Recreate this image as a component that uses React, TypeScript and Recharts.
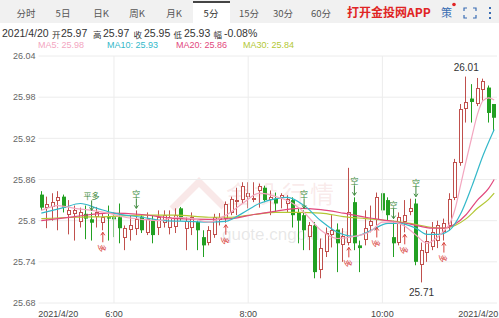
import React from 'react';
import {
  ComposedChart,
  Bar,
  Line,
  XAxis,
  YAxis,
  CartesianGrid,
  ReferenceLine,
  ReferenceDot,
} from 'recharts';

// 5-minute bars, 2021/4/20, first bar 04:55
const BAR_COUNT = 82;
const FIRST_BAR_MIN = 4 * 60 + 55;
const times = Array.from({ length: BAR_COUNT }, (_, i) => {
  const m = FIRST_BAR_MIN + i * 5;
  return `${String(Math.floor(m / 60)).padStart(2, '0')}:${String(m % 60).padStart(2, '0')}`;
});

const open = [
  25.838, 25.819, 25.819, 25.828, 25.835, 25.808, 25.81, 25.798, 25.81, 25.802,
  25.805, 25.796, 25.805, 25.805, 25.805, 25.776, 25.786, 25.789, 25.806, 25.783,
  25.8, 25.789, 25.796, 25.789, 25.79, 25.818, 25.789, 25.789, 25.798, 25.776,
  25.767, 25.779, 25.802, 25.803, 25.812, 25.828, 25.83, 25.834, 25.83, 25.843,
  25.848, 25.83, 25.832, 25.832, 25.825, 25.83, 25.812, 25.808, 25.776, 25.793,
  25.728, 25.754, 25.779, 25.787, 25.764, 25.767, 25.827, 25.764, 25.771, 25.793,
  25.8, 25.84, 25.83, 25.776, 25.767, 25.798, 25.812, 25.825, 25.735, 25.753,
  25.761, 25.769, 25.783, 25.793, 25.832, 25.885, 25.963, 25.978, 25.97, 25.99,
  25.994, 25.97,
];
const high = [
  25.843, 25.835, 25.84, 25.843, 25.838, 25.83, 25.822, 25.819, 25.822, 25.812,
  25.82, 25.81, 25.822, 25.812, 25.825, 25.793, 25.808, 25.815, 25.808, 25.812,
  25.808, 25.815, 25.815, 25.815, 25.818, 25.82, 25.805, 25.812, 25.8, 25.786,
  25.792, 25.81, 25.811, 25.828, 25.835, 25.848, 25.856, 25.856, 25.856, 25.854,
  25.851, 25.844, 25.841, 25.84, 25.837, 25.834, 25.819, 25.815, 25.798, 25.798,
  25.774, 25.79, 25.808, 25.796, 25.789, 25.877, 25.834, 25.771, 25.815, 25.822,
  25.841, 25.841, 25.834, 25.8, 25.812, 25.83, 25.832, 25.832, 25.768, 25.786,
  25.798, 25.8, 25.803, 25.84, 25.89, 25.97, 26.01, 25.999, 26.008, 26.007,
  25.997, 25.97,
];
const low = [
  25.815, 25.789, 25.8, 25.786, 25.812, 25.78, 25.771, 25.79, 25.773, 25.771,
  25.79, 25.786, 25.771, 25.776, 25.767, 25.757, 25.771, 25.779, 25.782, 25.779,
  25.767, 25.779, 25.79, 25.78, 25.782, 25.8, 25.757, 25.779, 25.757, 25.747,
  25.764, 25.775, 25.793, 25.797, 25.808, 25.808, 25.825, 25.818, 25.827, 25.819,
  25.827, 25.808, 25.812, 25.818, 25.812, 25.79, 25.767, 25.757, 25.757, 25.716,
  25.716, 25.747, 25.761, 25.725, 25.74, 25.764, 25.757, 25.725, 25.764, 25.783,
  25.793, 25.811, 25.8, 25.747, 25.764, 25.783, 25.808, 25.735, 25.71, 25.74,
  25.757, 25.76, 25.771, 25.786, 25.83, 25.88, 25.943, 25.943, 25.967, 25.975,
  25.943, 25.93,
];
const close = [
  25.819, 25.825, 25.827, 25.834, 25.819, 25.816, 25.816, 25.812, 25.803, 25.797,
  25.812, 25.805, 25.803, 25.802, 25.789, 25.79, 25.793, 25.803, 25.786, 25.803,
  25.779, 25.805, 25.808, 25.805, 25.808, 25.803, 25.8, 25.805, 25.786, 25.764,
  25.786, 25.805, 25.804, 25.825, 25.832, 25.83, 25.851, 25.84, 25.833, 25.85,
  25.83, 25.834, 25.825, 25.837, 25.832, 25.808, 25.8, 25.786, 25.793, 25.725,
  25.76, 25.782, 25.786, 25.767, 25.777, 25.812, 25.767, 25.76, 25.789, 25.8,
  25.834, 25.815, 25.808, 25.767, 25.805, 25.808, 25.818, 25.74, 25.757, 25.771,
  25.783, 25.793, 25.796, 25.832, 25.885, 25.963, 25.973, 25.973, 25.994, 26.003,
  25.957, 25.95,
];

// moving averages at [bar index, value]
const ma5Pts: [number, number][] = [
  [0, 25.815], [3, 25.822], [6, 25.818], [9, 25.815], [12, 25.811], [15, 25.805],
  [18, 25.802], [21, 25.8], [24, 25.805], [27, 25.803], [30, 25.798], [33, 25.808],
  [36, 25.825], [39, 25.84], [42, 25.835], [45, 25.825], [47, 25.812], [50, 25.786],
  [53, 25.774], [56, 25.777], [59, 25.785], [61, 25.798], [63, 25.798], [65, 25.792],
  [67, 25.779], [69, 25.767], [71, 25.777], [72, 25.785], [73, 25.795], [74, 25.817],
  [75, 25.852], [76, 25.888], [77, 25.922], [78, 25.955], [79, 25.975], [80, 25.979],
  [81, 25.976],
];
const ma10Pts: [number, number][] = [
  [0, 25.811], [4, 25.819], [7, 25.825], [10, 25.818], [13, 25.811], [18, 25.805],
  [22, 25.8], [26, 25.799], [30, 25.798], [33, 25.799], [36, 25.811], [39, 25.825],
  [42, 25.832], [44, 25.834], [47, 25.822], [50, 25.8], [53, 25.783], [56, 25.777],
  [59, 25.786], [62, 25.796], [64, 25.796], [67, 25.789], [69, 25.78], [71, 25.78],
  [73, 25.786], [75, 25.81], [77, 25.85], [79, 25.895], [81, 25.933],
];
const ma20Pts: [number, number][] = [
  [0, 25.8], [6, 25.806], [12, 25.811], [18, 25.809], [24, 25.803], [30, 25.802],
  [34, 25.803], [38, 25.809], [42, 25.814], [46, 25.818], [50, 25.816], [54, 25.811],
  [58, 25.805], [62, 25.8], [66, 25.795], [70, 25.789], [72, 25.789], [74, 25.795],
  [76, 25.809], [78, 25.83], [80, 25.847], [81, 25.86],
];
const ma30Pts: [number, number][] = [
  [0, 25.803], [6, 25.805], [12, 25.806], [18, 25.808], [24, 25.808], [30, 25.805],
  [34, 25.805], [38, 25.809], [42, 25.812], [46, 25.812], [50, 25.811], [54, 25.806],
  [58, 25.803], [62, 25.8], [66, 25.796], [70, 25.79], [72, 25.789], [74, 25.793],
  [76, 25.803], [78, 25.818], [80, 25.831], [81, 25.84],
];

// trade signals: bar index and label
const shortSignals: [number, string][] = [
  [9, '平多'], [17, '空'], [47, '空'], [56, '空'], [63, '空'], [67, '空'],
];
const longSignals = [11, 33, 55, 60, 65, 72];

const yTicks = [25.68, 25.74, 25.8, 25.86, 25.92, 25.98, 26.04];
const xTicks = ['04:55', '06:00', '08:00', '10:00', '11:40'];
const dateLabel = '2021/4/20';
const changePct = '-0.08%';

const tabs = ['分时', '5日', '日K', '周K', '月K', '5分', '15分', '30分', '60分'];
const tabCenters = [26, 63, 101, 137, 174, 211, 249, 283, 321];
const activeTab = '5分';

const UP = '#c0504d';
const DOWN = '#22a022';
const MA_COLORS = { ma5: '#f3a6bf', ma10: '#33b8c9', ma20: '#e2487d', ma30: '#b3c734' };
const GRID = '#ececec';
const NUM_FONT = '"Liberation Sans", Arial, sans-serif';
const CJK_FONT = '"Noto Sans CJK SC", "Liberation Sans", sans-serif';

const lookup = (pts: [number, number][], i: number) => {
  const p = pts.find((q) => q[0] === i);
  return p ? p[1] : null;
};

const data = times.map((t, i) => ({
  t,
  o: open[i],
  h: high[i],
  l: low[i],
  c: close[i],
  range: [low[i], high[i]],
  ma5: lookup(ma5Pts, i),
  ma10: lookup(ma10Pts, i),
  ma20: lookup(ma20Pts, i),
  ma30: lookup(ma30Pts, i),
}));

const last = BAR_COUNT - 1;
const maxIdx = high.indexOf(Math.max(...high));
const minIdx = low.indexOf(Math.min(...low));

const Candle = (props: any) => {
  const { x, y, width, height, payload } = props;
  if (!payload) return null;
  const { o, h, l, c } = payload;
  const top = Math.min(y, y + height);
  const span = Math.abs(height);
  const k = h > l ? span / (h - l) : 0;
  const left = Math.round(x + width / 2) - 2;
  const wx = left + 1.5;
  const bTop = top + (h - Math.max(o, c)) * k;
  const bBot = top + (h - Math.min(o, c)) * k;
  if (c >= o) {
    const ry = Math.round(bTop) + 0.5;
    const rh = Math.max(Math.round(bBot - bTop) - 1, 1);
    return (
      <g>
        <line x1={wx} x2={wx} y1={top} y2={ry} stroke={UP} strokeWidth={1} />
        <line x1={wx} x2={wx} y1={ry + rh} y2={top + span} stroke={UP} strokeWidth={1} />
        <rect x={left + 0.5} y={ry} width={3} height={rh} fill="#fff" stroke={UP} strokeWidth={1} />
      </g>
    );
  }
  return (
    <g>
      <line x1={wx} x2={wx} y1={top} y2={top + span} stroke={DOWN} strokeWidth={1} />
      <rect x={left} y={bTop} width={4} height={Math.max(bBot - bTop, 1.2)} fill={DOWN} />
    </g>
  );
};

const shortMark = (label: string) => (p: any) => {
  const { cx, cy } = p;
  const col = '#3d8a3d';
  return (
    <g>
      <text x={cx} y={cy - 13} textAnchor="middle" fontSize={8} fontFamily={CJK_FONT} fill={col}>
        {label}
      </text>
      <line x1={cx} x2={cx} y1={cy - 12} y2={cy - 2} stroke={col} strokeWidth={1} />
      <path d={`M${cx - 2},${cy - 5} L${cx},${cy - 2} L${cx + 2},${cy - 5}`} fill="none" stroke={col} strokeWidth={1} />
    </g>
  );
};

const longMark = (p: any) => {
  const { cx, cy } = p;
  const col = '#d8413b';
  return (
    <g>
      <line x1={cx} x2={cx} y1={cy + 2} y2={cy + 12} stroke={col} strokeWidth={1} />
      <path d={`M${cx - 2},${cy + 5} L${cx},${cy + 2} L${cx + 2},${cy + 5}`} fill="none" stroke={col} strokeWidth={1} />
      <text
        x={cx}
        y={cy + 18}
        textAnchor="middle"
        dominantBaseline="central"
        fontSize={8}
        fontFamily={CJK_FONT}
        fill={col}
        transform={`rotate(90 ${cx} ${cy + 18})`}
      >
        多
      </text>
    </g>
  );
};

const extremeLabel = (above: boolean, text: string) => (p: any) => (
  <text
    x={p.cx}
    y={above ? p.cy - 6 : p.cy + 14}
    textAnchor="middle"
    fontSize={10}
    fontFamily={NUM_FONT}
    fill="#333"
  >
    {text}
  </text>
);

const XTick = (props: any) => {
  const { x, y, payload } = props;
  const v: string = payload.value;
  const first = v === times[0];
  const end = v === times[last];
  const label = first || end ? dateLabel : v.replace(/^0/, '');
  return (
    <text
      x={first ? x - 3 : end ? x + 4 : x}
      y={y + 11.5}
      textAnchor={first ? 'start' : end ? 'end' : 'middle'}
      fontSize={9}
      fontFamily={NUM_FONT}
      fill="#444"
    >
      {label}
    </text>
  );
};

const YTick = (props: any) => {
  const { x, y, payload } = props;
  return (
    <text x={x - 1} y={y + 3.2} textAnchor="end" fontSize={9} fontFamily={NUM_FONT} fill="#666">
      {String(payload.value)}
    </text>
  );
};

const infoItems: [string, number][] = [
  [dateLabel, 2],
  ['开', 52],
  [open[last].toFixed(2), 61],
  ['高', 93],
  [high[last].toFixed(2), 103],
  ['收', 133.5],
  [close[last].toFixed(2), 144],
  ['低', 173.5],
  [low[last].toFixed(2), 184],
  ['幅', 213.5],
  [changePct, 224],
];

const legendItems: [string, string, number][] = [
  ['MA5', 'ma5', 38],
  ['MA10', 'ma10', 107],
  ['MA20', 'ma20', 176],
  ['MA30', 'ma30', 243],
];
const legendValues: Record<string, number> = {
  ma5: ma5Pts[ma5Pts.length - 1][1],
  ma10: ma10Pts[ma10Pts.length - 1][1],
  ma20: ma20Pts[ma20Pts.length - 1][1],
  ma30: ma30Pts[ma30Pts.length - 1][1],
};

const Header = () => (
  <>
    <div style={{ position: 'absolute', left: 0, top: 0, width: 499, height: 23, background: '#f1f1f1' }} />
    <div
      style={{
        position: 'absolute',
        left: 193,
        top: 1,
        width: 37,
        height: 22,
        background: '#fff',
        borderTop: '2px solid #444',
        boxSizing: 'border-box',
      }}
    />
    {tabs.map((t, i) => (
      <span
        key={t}
        style={{
          position: 'absolute',
          left: tabCenters[i] - 25,
          width: 50,
          top: 6,
          textAlign: 'center',
          fontSize: 9.5,
          lineHeight: '14px',
          fontFamily: CJK_FONT,
          color: t === activeTab ? '#333' : '#555',
        }}
      >
        {t}
      </span>
    ))}
    <span
      style={{
        position: 'absolute',
        left: 347,
        top: 4,
        fontSize: 12,
        lineHeight: '16px',
        fontWeight: 'bold',
        fontFamily: CJK_FONT,
        color: '#e02424',
        whiteSpace: 'nowrap',
      }}
    >
      打开金投网APP
    </span>
    <span
      style={{
        position: 'absolute',
        left: 441,
        top: 5,
        fontSize: 11,
        lineHeight: '14px',
        fontFamily: CJK_FONT,
        color: '#3a6db3',
      }}
    >
      策
    </span>
    <svg style={{ position: 'absolute', left: 0, top: 0 }} width={499} height={23}>
      <circle cx={454} cy={4.5} r={1.8} fill="#e02424" />
      <g fill="none" stroke="#3a6db3" strokeWidth={1.2}>
        <path d="M464,11 V8 H467" />
        <path d="M473,8 H476 V11" />
        <path d="M476,15 V18 H473" />
        <path d="M467,18 H464 V15" />
      </g>
      <g fill="#3a6db3">
        <rect x={489} y={7} width={2} height={2} />
        <rect x={489} y={12} width={2} height={2} />
        <rect x={489} y={17} width={2} height={2} />
      </g>
    </svg>
    {infoItems.map(([t, x], i) => {
      const num = /[0-9]/.test(t);
      return (
        <span
          key={i}
          style={{
            position: 'absolute',
            left: x,
            top: num ? 27 : 27.5,
            fontSize: num ? 10.5 : 8.5,
            lineHeight: '13px',
            fontFamily: num ? NUM_FONT : CJK_FONT,
            color: '#333',
            whiteSpace: 'nowrap',
          }}
        >
          {t}
        </span>
      );
    })}
    {legendItems.map(([name, key, x]) => (
      <span
        key={key}
        style={{
          position: 'absolute',
          left: x,
          top: 39,
          fontSize: 9,
          lineHeight: '12px',
          fontFamily: NUM_FONT,
          color: (MA_COLORS as any)[key],
          whiteSpace: 'nowrap',
        }}
      >
        {`${name}: ${legendValues[key].toFixed(2)}`}
      </span>
    ))}
  </>
);

const Watermark = () => (
  <svg style={{ position: 'absolute', left: 0, top: 0 }} width={499} height={318}>
    <path
      d="M172,209 L199,182 L224,207"
      fill="none"
      stroke="rgba(226,150,150,0.22)"
      strokeWidth={7}
    />
    <text
      x={226}
      y={203}
      fontSize={24}
      letterSpacing={4}
      fontFamily={CJK_FONT}
      fill="rgba(226,150,150,0.2)"
    >
      金投行情
    </text>
    <text x={222} y={240} fontSize={17} fontFamily={NUM_FONT} fill="rgba(170,170,170,0.28)">
      quote.cngold.org
    </text>
  </svg>
);

export default function App() {
  return (
    <div
      style={{
        position: 'absolute',
        left: 0,
        top: 0,
        width: 499,
        height: 318,
        overflow: 'hidden',
        background: '#fff',
      }}
    >
      <Watermark />
      <Header />
      <div style={{ position: 'absolute', left: 0, top: 0 }}>
        <ComposedChart
          width={499}
          height={318}
          data={data}
          margin={{ top: 56, right: 2, bottom: 0, left: 0.5 }}
        >
          <CartesianGrid vertical={false} stroke={GRID} />
          {xTicks.slice(1, 4).map((t) => (
            <ReferenceLine key={t} x={t} stroke={GRID} />
          ))}
          <XAxis
            dataKey="t"
            ticks={xTicks}
            interval={0}
            tick={<XTick />}
            tickLine={false}
            axisLine={false}
            tickSize={0}
            height={15}
          />
          <YAxis
            type="number"
            domain={[25.68, 26.04]}
            ticks={yTicks}
            tick={<YTick />}
            tickLine={false}
            axisLine={false}
            tickSize={0}
            width={38}
          />
          <Bar dataKey="range" barSize={4} shape={<Candle />} isAnimationActive={false} />
          <Line type="monotone" dataKey="ma30" stroke={MA_COLORS.ma30} strokeWidth={1.2} dot={false} connectNulls isAnimationActive={false} />
          <Line type="monotone" dataKey="ma20" stroke={MA_COLORS.ma20} strokeWidth={1.2} dot={false} connectNulls isAnimationActive={false} />
          <Line type="monotone" dataKey="ma10" stroke={MA_COLORS.ma10} strokeWidth={1.2} dot={false} connectNulls isAnimationActive={false} />
          <Line type="monotone" dataKey="ma5" stroke={MA_COLORS.ma5} strokeWidth={1.2} dot={false} connectNulls isAnimationActive={false} />
          {shortSignals.map(([i, label]) => (
            <ReferenceDot key={`s${i}`} x={times[i]} y={high[i]} r={0} shape={shortMark(label)} />
          ))}
          {longSignals.map((i) => (
            <ReferenceDot key={`l${i}`} x={times[i]} y={low[i]} r={0} shape={longMark} />
          ))}
          <ReferenceDot x={times[maxIdx]} y={high[maxIdx]} r={0} shape={extremeLabel(true, high[maxIdx].toFixed(2))} />
          <ReferenceDot x={times[minIdx]} y={low[minIdx]} r={0} shape={extremeLabel(false, low[minIdx].toFixed(2))} />
        </ComposedChart>
      </div>
    </div>
  );
}
